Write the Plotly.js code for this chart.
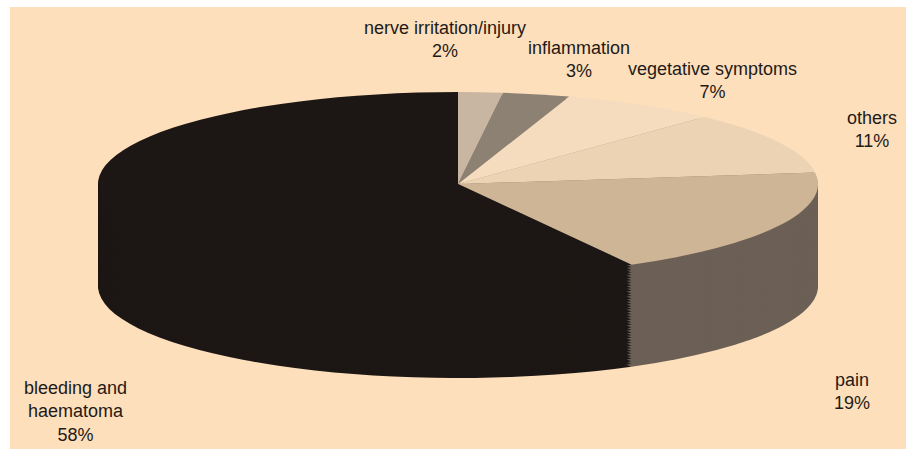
<!DOCTYPE html>
<html>
<head>
<meta charset="utf-8">
<script src="https://cdn.plot.ly/plotly-3.0.1.min.js"></script>
<style>
html, body { margin:0; padding:0; background:#ffffff; width:912px; height:452px; overflow:hidden; }
#bg { position:absolute; left:0; top:0; width:912px; height:452px; }
#pie { position:absolute; left:98px; top:92px; width:720px; height:1119px;
       transform-origin:0 0; transform:scaleY(0.2556); }
</style>
</head>
<body>
<div id="bg"></div>
<div id="pie"></div>
<script>
// ---- data ----
const categories = ['nerve irritation/injury', 'inflammation', 'vegetative symptoms', 'others', 'pain', 'bleeding and haematoma'];
const percentages = [2, 3, 7, 11, 19, 58];

// ---- styles ----
const faceColors = ['#c8b6a2', '#8d8174', '#f5dcbe', '#ecd3b3', '#cdb596', '#1c1714'];
const sideColors = ['#8a7a6a', '#5e544a', '#a8927c', '#8a7866', '#6c6056', '#1c1714'];
const lineBreaks = { 'bleeding and haematoma': 'bleeding and<br>haematoma' };
// label block centres in page pixels
const labelPos = {
  'nerve irritation/injury': [445, 39.5],
  'inflammation': [579, 60],
  'vegetative symptoms': [712, 80],
  'others': [872, 129],
  'pain': [852, 391.5],
  'bleeding and haematoma': [75, 411.5]
};
const PW = 912, PH = 452;

// ---- background + labels ----
const annotations = categories.map((c, i) => ({
  xref: 'paper', yref: 'paper',
  x: labelPos[c][0] / PW, y: 1 - labelPos[c][1] / PH,
  xanchor: 'center', yanchor: 'middle', align: 'center', showarrow: false,
  text: (lineBreaks[c] || c) + '<br>' + percentages[i] + '%',
  font: { family: 'Liberation Sans, Arial, sans-serif', size: 18, color: '#1f1a17' }
}));

Plotly.newPlot('bg', [], {
  width: PW, height: PH,
  margin: { l: 0, r: 0, t: 0, b: 0 },
  paper_bgcolor: '#ffffff', plot_bgcolor: 'rgba(0,0,0,0)',
  xaxis: { visible: false }, yaxis: { visible: false },
  shapes: [{ type: 'rect', xref: 'paper', yref: 'paper', layer: 'below',
    x0: 10 / PW, x1: 906 / PW, y0: 1 - 449 / PH, y1: 1 - 7 / PH,
    fillcolor: '#fddfbb', line: { width: 0 } }],
  annotations: annotations
}, { staticPlot: true, displayModeBar: false });

// ---- 3D-looking pie: stacked copies, flattened by CSS ----
const W = 720, H = 1119, D = 720, N = 40;
const traces = [];
for (let k = 0; k < N; k++) {
  const off = (k / (N - 1)) * (H - D) / H;
  const isTop = k === N - 1;
  traces.push({
    type: 'pie',
    labels: categories,
    values: percentages,
    sort: false,
    direction: 'clockwise',
    rotation: 0,
    marker: { colors: isTop ? faceColors : sideColors, line: { width: 0 } },
    textinfo: 'none',
    hoverinfo: 'skip',
    showlegend: false,
    domain: { x: [0, 1], y: [off, Math.min(1, off + D / H)] }
  });
}
Plotly.newPlot('pie', traces, {
  width: W, height: H,
  margin: { l: 0, r: 0, t: 0, b: 0 },
  paper_bgcolor: 'rgba(0,0,0,0)',
  showlegend: false
}, { staticPlot: true, displayModeBar: false });
</script>
</body>
</html>
